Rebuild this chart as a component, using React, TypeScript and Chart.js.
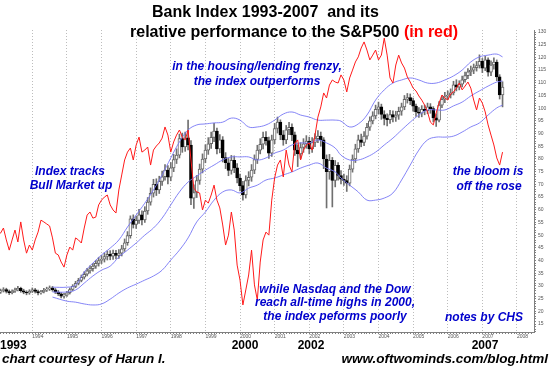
import { useEffect, useRef } from "react";
import { Chart, registerables } from "chart.js";

Chart.register(...registerables);

// Monthly candles, January 1993 .. August 2007
const startYear = 1993;

const opens = [
  27.0, 27.5, 28.2, 28.6, 27.8, 27.3, 27.9, 28.5, 29.0, 28.1, 27.5, 27.2,
  27.9, 28.5, 27.8, 27.2, 27.7, 28.3, 28.8, 29.2, 28.5, 27.6, 26.9, 26.0,
  26.4, 27.3, 28.6, 29.8, 31.0, 32.2, 33.4, 34.6, 35.9, 36.8, 37.8, 38.9,
  40.0, 40.5, 41.6, 42.4, 41.7, 42.8, 42.0, 42.9, 44.6, 47.0, 49.8, 56.4,
  54.2, 55.8, 58.0, 56.0, 59.5, 63.0, 66.5, 70.0, 67.8, 71.2, 73.0, 75.6,
  72.8, 76.5, 79.8, 81.5, 88.0, 84.7, 88.3, 85.5, 64.6, 66.8, 71.5, 76.0,
  80.0, 83.5, 86.0, 88.5, 91.0, 84.0, 87.5, 80.5, 78.5, 75.5, 79.5, 76.5,
  72.5, 69.5, 65.8, 71.5, 72.8, 75.6, 79.8, 83.5, 85.8, 88.5, 87.2, 82.3,
  87.5, 92.0, 94.5, 89.5, 87.5, 91.5, 92.5, 89.5, 83.5, 82.0, 84.5, 86.0,
  87.0, 84.0, 86.5, 88.0, 89.0, 87.5, 80.0, 75.0, 79.5, 71.5, 77.5, 73.5,
  72.0, 71.5, 70.5, 76.0, 80.0, 84.0, 87.5, 86.5, 89.0, 92.5, 95.0, 97.0,
  99.5, 100.5, 97.5, 96.0, 95.5, 97.5, 96.5, 97.2, 98.8, 100.5, 103.5, 104.2,
  103.0, 100.8, 98.5, 98.0, 99.5, 99.0, 100.5, 99.8, 96.2, 95.3, 101.2, 103.5,
  104.8, 105.2, 106.0, 109.2, 108.3, 109.5, 111.2, 112.8, 114.3, 115.0, 116.0, 116.8,
  118.5, 115.8, 119.0, 114.2, 117.0, 118.2, 112.3, 105.2,
];

const highs = [
  28.3, 28.8, 29.3, 29.1, 28.4, 28.5, 29.1, 29.8, 29.5, 28.7, 28.1, 28.5,
  29.2, 29.0, 28.4, 28.3, 29.0, 29.5, 30.0, 29.8, 29.0, 28.2, 27.4, 27.1,
  27.9, 29.2, 30.5, 31.8, 33.0, 34.3, 35.6, 36.9, 37.9, 38.9, 40.1, 41.3,
  42.0, 43.0, 43.8, 43.9, 44.1, 44.0, 44.3, 46.0, 48.5, 51.4, 57.6, 58.0,
  57.5, 60.2, 59.6, 61.2, 64.8, 68.6, 72.0, 72.2, 73.2, 75.2, 77.8, 77.4,
  78.6, 81.8, 84.0, 89.8, 90.2, 90.6, 95.3, 87.2, 69.8, 73.5, 78.0, 82.0,
  85.6, 88.4, 90.6, 94.0, 92.2, 89.6, 88.8, 82.5, 80.2, 81.4, 81.2, 78.2,
  74.0, 71.2, 73.4, 75.0, 77.8, 81.6, 85.4, 88.0, 90.6, 90.8, 88.6, 89.4,
  94.0, 96.5, 95.4, 91.2, 93.2, 94.4, 93.8, 90.6, 85.6, 86.4, 88.0, 89.2,
  88.6, 88.4, 90.0, 91.2, 90.6, 88.4, 81.6, 81.8, 80.6, 79.4, 78.6, 75.4,
  74.0, 73.4, 77.6, 81.6, 85.8, 89.4, 89.8, 90.8, 94.0, 96.6, 98.6, 101.2,
  102.4, 101.6, 99.0, 97.8, 99.2, 99.0, 98.8, 100.4, 102.0, 105.0, 105.8, 105.6,
  104.0, 101.6, 100.2, 101.0, 101.2, 102.0, 101.8, 100.6, 97.8, 102.6, 104.8, 106.2,
  106.8, 107.6, 110.6, 111.2, 110.8, 112.6, 114.2, 115.6, 116.6, 117.4, 118.4, 121.0,
  119.6, 120.4, 119.8, 118.6, 119.8, 119.0, 113.2, 110.4,
];

const lows = [
  26.5, 27.0, 27.6, 27.2, 26.6, 26.8, 27.4, 28.0, 27.5, 26.9, 26.5, 26.7,
  27.4, 27.2, 26.5, 26.7, 27.2, 27.8, 28.2, 27.9, 27.0, 26.2, 25.3, 25.2,
  25.9, 26.8, 28.1, 29.3, 30.4, 31.6, 32.7, 33.9, 35.0, 35.8, 36.9, 37.8,
  38.8, 39.4, 40.2, 40.3, 40.4, 40.6, 40.8, 41.8, 43.6, 46.0, 48.8, 52.8,
  52.6, 54.6, 54.0, 55.0, 58.2, 61.8, 65.0, 65.6, 66.4, 69.6, 71.6, 70.2,
  71.4, 75.0, 78.2, 80.4, 82.6, 83.0, 83.6, 62.0, 60.5, 64.8, 70.0, 74.5,
  78.5, 81.8, 84.2, 86.8, 82.0, 82.4, 78.8, 76.2, 73.4, 74.0, 74.6, 70.6,
  67.4, 63.8, 64.6, 69.4, 71.2, 74.2, 78.2, 82.0, 84.0, 85.4, 80.2, 81.0,
  86.0, 90.2, 87.6, 85.4, 86.0, 89.6, 87.2, 81.4, 77.0, 80.2, 82.6, 84.2,
  82.0, 82.6, 84.8, 86.4, 85.0, 76.2, 60.7, 72.0, 61.1, 69.0, 71.6, 70.2,
  69.6, 67.2, 69.4, 74.8, 78.6, 82.6, 84.8, 85.2, 87.8, 91.2, 93.8, 95.8,
  97.8, 95.6, 93.4, 93.0, 94.0, 94.6, 94.8, 95.6, 97.2, 99.4, 102.0, 101.4,
  98.8, 96.8, 96.4, 96.6, 97.4, 97.8, 98.0, 94.6, 92.8, 94.6, 100.2, 102.2,
  103.4, 104.0, 105.2, 106.8, 107.2, 108.4, 110.2, 111.6, 112.8, 113.6, 114.6, 115.8,
  114.0, 114.8, 112.6, 112.8, 115.4, 110.8, 103.6, 100.5,
];

const closes = [
  27.5, 28.2, 28.6, 27.8, 27.3, 27.9, 28.5, 29.0, 28.1, 27.5, 27.2, 27.9,
  28.5, 27.8, 27.2, 27.7, 28.3, 28.8, 29.2, 28.5, 27.6, 26.9, 26.0, 26.4,
  27.3, 28.6, 29.8, 31.0, 32.2, 33.4, 34.6, 35.9, 36.8, 37.8, 38.9, 40.0,
  40.5, 41.6, 42.4, 41.7, 42.8, 42.0, 42.9, 44.6, 47.0, 49.8, 56.4, 54.2,
  55.8, 58.0, 56.0, 59.5, 63.0, 66.5, 70.0, 67.8, 71.2, 73.0, 75.6, 72.8,
  76.5, 79.8, 81.5, 88.0, 84.7, 88.3, 85.5, 64.6, 66.8, 71.5, 76.0, 80.0,
  83.5, 86.0, 88.5, 91.0, 84.0, 87.5, 80.5, 78.5, 75.5, 79.5, 76.5, 72.5,
  69.5, 65.8, 71.5, 72.8, 75.6, 79.8, 83.5, 85.8, 88.5, 87.2, 82.3, 87.5,
  92.0, 94.5, 89.5, 87.5, 91.5, 92.5, 89.5, 83.5, 82.0, 84.5, 86.0, 87.0,
  84.0, 86.5, 88.0, 89.0, 87.5, 80.0, 75.0, 79.5, 71.5, 77.5, 73.5, 72.0,
  71.5, 70.5, 76.0, 80.0, 84.0, 87.5, 86.5, 89.0, 92.5, 95.0, 97.0, 99.5,
  100.5, 97.5, 96.0, 95.5, 97.5, 96.5, 97.2, 98.8, 100.5, 103.5, 104.2, 103.0,
  100.8, 98.5, 98.0, 99.5, 99.0, 100.5, 99.8, 96.2, 95.3, 101.2, 103.5, 104.8,
  105.2, 106.0, 109.2, 108.3, 109.5, 111.2, 112.8, 114.3, 115.0, 116.0, 116.8, 118.5,
  115.8, 119.0, 114.2, 117.0, 118.2, 112.3, 105.2, 108.3,
];

// Relative performance of the bank index vs the S&P500 (red line, unlabelled scale)
const relPerf = [
  50.0, 50.8, 52.8, 48.1, 44.1, 48.1, 52.0, 47.3, 55.2, 48.1, 42.9, 46.1,
  44.1, 48.1, 51.2, 55.9, 55.2, 54.4, 53.6, 48.9, 42.9, 42.2, 39.4, 37.4,
  42.2, 45.3, 44.1, 48.9, 48.1, 46.9, 52.8, 57.9, 59.1, 56.7, 57.1, 61.9,
  63.8, 65.0, 65.8, 61.9, 59.9, 58.7, 67.8, 73.7, 79.6, 82.7, 84.3, 79.6,
  85.5, 88.6, 82.7, 83.5, 84.7, 77.6, 83.5, 85.1, 86.3, 88.2, 92.6, 89.4,
  82.7, 86.7, 89.4, 91.4, 88.6, 87.5, 91.4, 79.6, 68.5, 67.0, 66.6, 59.9,
  63.8, 62.6, 65.8, 69.7, 63.8, 60.7, 54.0, 46.1, 50.0, 59.1, 52.0, 38.2,
  32.3, 22.5, 28.4, 34.3, 44.1, 30.4, 24.4, 39.4, 48.1, 51.2, 50.0, 63.8,
  72.5, 77.6, 79.6, 72.9, 83.5, 77.6, 74.9, 86.3, 87.5, 79.6, 83.5, 85.5,
  86.3, 83.5, 89.4, 96.5, 100.5, 106.0, 104.0, 109.1, 111.1, 110.3, 109.9, 113.1,
  111.1, 106.4, 111.9, 115.0, 118.2, 120.2, 123.7, 126.1, 122.9, 119.0, 120.9, 122.9,
  119.0, 120.9, 127.6, 120.9, 111.9, 109.9, 117.0, 120.9, 117.8, 115.8, 112.3, 110.3,
  107.9, 106.8, 104.8, 103.2, 101.2, 98.5, 94.5, 93.4, 98.1, 102.0, 105.2, 104.0,
  103.2, 105.6, 106.4, 107.9, 109.9, 107.2, 108.7, 110.3, 107.9, 103.2, 99.3, 104.0,
  102.0, 98.5, 93.4, 89.4, 85.5, 80.4, 77.6, 82.7,
];

// Bollinger bands (20-month), read at these month indices
const bandMonths = [
  19, 24, 27, 30, 33, 36, 39, 42, 45, 48, 51, 54, 57, 60, 63, 66, 69, 72, 75, 78,
  81, 84, 87, 90, 93, 96, 99, 102, 105, 108, 111, 114, 117, 119, 122, 125, 128, 131,
  134, 137, 140, 143, 146, 149, 152, 155, 158, 161, 164, 167, 170, 173, 175,
];
const bandUpper = [
  29.5, 29.5, 30.3, 35.5, 39.0, 42.2, 44.9, 48.1, 53.2, 57.9, 62.6, 67.8, 73.7, 80.4,
  86.7, 91.4, 93.4, 93.8, 94.2, 94.5, 96.1, 95.3, 92.6, 92.6, 93.4, 95.3, 97.7, 98.5,
  97.3, 96.5, 95.3, 95.3, 95.3, 94.9, 92.6, 93.8, 97.3, 103.2, 107.2, 109.9, 111.1,
  111.9, 111.1, 109.9, 109.9, 111.1, 112.7, 115.0, 118.2, 120.2, 120.9, 121.3, 120.2,
];
const bandMiddle = [
  27.6, 27.6, 28.4, 31.1, 33.9, 36.2, 37.8, 41.4, 44.1, 46.9, 50.0, 52.8, 56.7, 61.9,
  67.0, 70.9, 73.3, 75.6, 77.6, 79.6, 80.8, 80.8, 80.8, 79.6, 80.4, 82.3, 83.5, 85.5,
  86.3, 86.3, 87.5, 86.3, 84.3, 81.5, 79.6, 79.6, 80.8, 82.7, 85.5, 88.2, 91.4, 94.5,
  97.3, 99.3, 99.3, 99.3, 100.9, 102.4, 104.8, 106.8, 108.7, 110.3, 110.7,
];
const bandLower = [
  25.6, 24.0, 23.6, 22.9, 22.5, 22.9, 24.8, 27.2, 29.2, 30.7, 32.3, 33.9, 36.2, 40.2,
  44.1, 48.9, 55.2, 59.1, 63.8, 67.0, 67.8, 66.6, 68.5, 69.7, 71.7, 72.5, 73.7, 74.9,
  76.4, 77.6, 78.4, 76.4, 74.9, 72.5, 69.7, 67.0, 63.8, 63.8, 64.6, 66.6, 71.7, 77.6,
  83.5, 87.5, 88.6, 88.6, 89.0, 90.6, 92.6, 94.2, 97.3, 100.1, 101.2,
];

const yearTicks = [1993, 1994, 1995, 1996, 1997, 1998, 1999, 2000, 2001, 2002, 2003, 2004, 2005, 2006, 2007, 2008];
const priceTickLabels = [15, 20, 25, 30, 35, 40, 45, 50, 55, 60, 65, 70, 75, 80, 85, 90, 95, 100, 105, 110, 115, 120, 125, 130];

const X_MIN = 1993.067;
const X_MAX = 2008.492;
const Y_MIN = 11.85;
const Y_MAX = 130.79;

const monthTime = (i: number) => startYear + i / 12;
const isYearTick = (v: number) => Math.abs(v * 12 - Math.round(v * 12)) < 1e-6 && Math.round(v * 12) % 12 === 0;

const FONT = "'Liberation Sans', Arial, Helvetica, sans-serif";
const BLUE = "#0000cc";

type TProps = {
  text: React.ReactNode;
  size: number;
  baseline: number;
  left?: number;
  center?: number;
  right?: number;
  color?: string;
  italic?: boolean;
};

function Txt({ text, size, baseline, left, center, right, color = "#000", italic = false }: TProps) {
  const top = baseline - 0.8465 * size;
  const style: React.CSSProperties = {
    position: "absolute",
    top,
    fontFamily: FONT,
    fontSize: size,
    fontWeight: "bold",
    fontStyle: italic ? "italic" : "normal",
    lineHeight: `${size}px`,
    color,
    whiteSpace: "pre",
  };
  if (center !== undefined) {
    style.left = center - 200;
    style.width = 400;
    style.textAlign = "center";
  } else if (right !== undefined) {
    style.right = 550 - right;
    style.textAlign = "right";
  } else {
    style.left = left ?? 0;
  }
  return <div style={style}>{text}</div>;
}

export default function App() {
  const ref = useRef<HTMLCanvasElement>(null);

  useEffect(() => {
    const canvas = ref.current;
    if (!canvas) return;
    const times = closes.map((_, i) => monthTime(i));
    const wickData = times.map((t, i) => ({ x: t, y: [lows[i], highs[i]] }));
    const bodyData = times.map((t, i) => ({ x: t, y: [opens[i], closes[i]] }));
    const relData = times.map((t, i) => ({ x: t, y: relPerf[i] }));
    const bt = bandMonths.map((m) => monthTime(m));
    const upData = bt.map((t, i) => ({ x: t, y: bandUpper[i] }));
    const midData = bt.map((t, i) => ({ x: t, y: bandMiddle[i] }));
    const lowData = bt.map((t, i) => ({ x: t, y: bandLower[i] }));
    const bandColor = "rgba(120,120,245,0.9)";

    const chart = new Chart(canvas, {
      type: "bar",
      data: {
        datasets: [
          {
            type: "line",
            label: "Relative to S&P500",
            data: relData,
            yAxisID: "yRel",
            borderColor: "#ff1a1a",
            borderWidth: 1,
            pointRadius: 0,
            tension: 0,
            order: 0,
          },
          {
            type: "line",
            label: "Upper band",
            data: upData,
            borderColor: bandColor,
            borderWidth: 1,
            pointRadius: 0,
            tension: 0.4,
            order: 1,
          },
          {
            type: "line",
            label: "Middle band",
            data: midData,
            borderColor: bandColor,
            borderWidth: 1,
            pointRadius: 0,
            tension: 0.4,
            order: 1,
          },
          {
            type: "line",
            label: "Lower band",
            data: lowData,
            borderColor: bandColor,
            borderWidth: 1,
            pointRadius: 0,
            tension: 0.4,
            order: 1,
          },
          {
            type: "bar",
            label: "Body",
            data: bodyData,
            grouped: false,
            barThickness: 3,
            borderWidth: 1,
            borderSkipped: false,
            backgroundColor: (ctx: any) => {
              const i = ctx.dataIndex;
              return closes[i] >= opens[i] ? "#ffffff" : "#000000";
            },
            borderColor: (ctx: any) => {
              const i = ctx.dataIndex;
              return closes[i] >= opens[i] ? "#666666" : "#000000";
            },
            order: 2,
          },
          {
            type: "bar",
            label: "Wick",
            data: wickData,
            grouped: false,
            barThickness: 1,
            borderWidth: 0,
            backgroundColor: "#707070",
            order: 3,
          },
        ] as any,
      },
      options: {
        responsive: false,
        animation: false,
        devicePixelRatio: 1,
        events: [],
        layout: { padding: { top: 30, bottom: 27, left: 0, right: 0 } },
        plugins: { legend: { display: false }, tooltip: { enabled: false }, title: { display: false } },
        scales: {
          x: {
            type: "linear",
            min: X_MIN,
            max: X_MAX,
            offset: false,
            afterBuildTicks: (axis: any) => {
              const ticks: { value: number }[] = [];
              const first = Math.ceil(X_MIN * 12);
              const last = Math.floor(X_MAX * 12);
              for (let k = first; k <= last; k++) ticks.push({ value: k / 12 });
              axis.ticks = ticks;
            },
            afterFit: (axis: any) => {
              axis.height = 8;
            },
            grid: {
              offset: false,
              drawOnChartArea: true,
              color: (ctx: any) => (ctx.tick && isYearTick(ctx.tick.value) ? "#bdbdbd" : "rgba(0,0,0,0)"),
              tickColor: "#808080",
              tickLength: 2,
              lineWidth: 1,
            },
            border: { display: true, color: "#808080", width: 1, dash: [1, 2] },
            ticks: {
              autoSkip: false,
              maxRotation: 0,
              minRotation: 0,
              align: "start",
              padding: 0,
              color: "#555",
              font: { size: 5, family: FONT },
              callback: (v: any) => {
                const n = Number(v);
                if (!isYearTick(n)) return "";
                const y = Math.round(n);
                return yearTicks.includes(y) ? String(y) : "";
              },
            },
          },
          y: {
            type: "linear",
            position: "right",
            min: Y_MIN,
            max: Y_MAX,
            afterBuildTicks: (axis: any) => {
              const ticks: { value: number }[] = [];
              for (let v = Math.ceil(Y_MIN); v <= Math.floor(Y_MAX); v++) ticks.push({ value: v });
              axis.ticks = ticks;
            },
            afterFit: (axis: any) => {
              axis.width = 16;
            },
            grid: { drawOnChartArea: false, tickLength: 2, tickColor: "#808080" },
            border: { display: true, color: "#808080", width: 1 },
            ticks: {
              autoSkip: false,
              padding: 2,
              color: "#555",
              font: { size: 5, family: FONT },
              callback: (v: any) => (priceTickLabels.includes(Number(v)) ? String(v) : ""),
            },
          },
          yRel: {
            type: "linear",
            display: false,
            position: "right",
            min: Y_MIN,
            max: Y_MAX,
          },
        },
      } as any,
    });
    return () => chart.destroy();
  }, []);

  return (
    <div style={{ position: "fixed", left: 0, top: 0, width: 550, height: 367, background: "#fff", overflow: "hidden" }}>
      <canvas ref={ref} width={550} height={367} style={{ position: "absolute", left: 0, top: 0 }} />
      <Txt text="Bank Index 1993-2007  and its" size={16} baseline={18} left={152} />
      <Txt
        text={
          <>
            relative performance to the S&amp;P500 <span style={{ color: "#ff0000" }}>(in red)</span>
          </>
        }
        size={16}
        baseline={38}
        left={130}
      />
      <Txt text="in the housing/lending frenzy," size={12} baseline={70} center={257} color={BLUE} italic />
      <Txt text="the index outperforms" size={12} baseline={85} center={257} color={BLUE} italic />
      <Txt text="Index tracks" size={12} baseline={175} center={70} color={BLUE} italic />
      <Txt text="Bull Market up" size={12} baseline={189} center={71} color={BLUE} italic />
      <Txt text="while Nasdaq and the Dow" size={12} baseline={293} center={335} color={BLUE} italic />
      <Txt text="reach all-time highs in 2000," size={12} baseline={306.5} center={335} color={BLUE} italic />
      <Txt text="the index peforms poorly" size={12} baseline={320} center={335} color={BLUE} italic />
      <Txt text="the bloom is" size={12} baseline={175} center={488} color={BLUE} italic />
      <Txt text="off the rose" size={12} baseline={190} center={489} color={BLUE} italic />
      <Txt text="notes by CHS" size={12} baseline={321} left={445} color={BLUE} italic />
      <Txt text="1993" size={12} baseline={349} left={0} />
      <Txt text="2000" size={12} baseline={349} center={245} />
      <Txt text="2002" size={12} baseline={349} center={311} />
      <Txt text="2007" size={12} baseline={349} center={485} />
      <Txt text="chart courtesy of Harun I." size={13.5} baseline={363} left={2} italic />
      <Txt text="www.oftwominds.com/blog.html" size={13.5} baseline={363} right={548} italic />
    </div>
  );
}
